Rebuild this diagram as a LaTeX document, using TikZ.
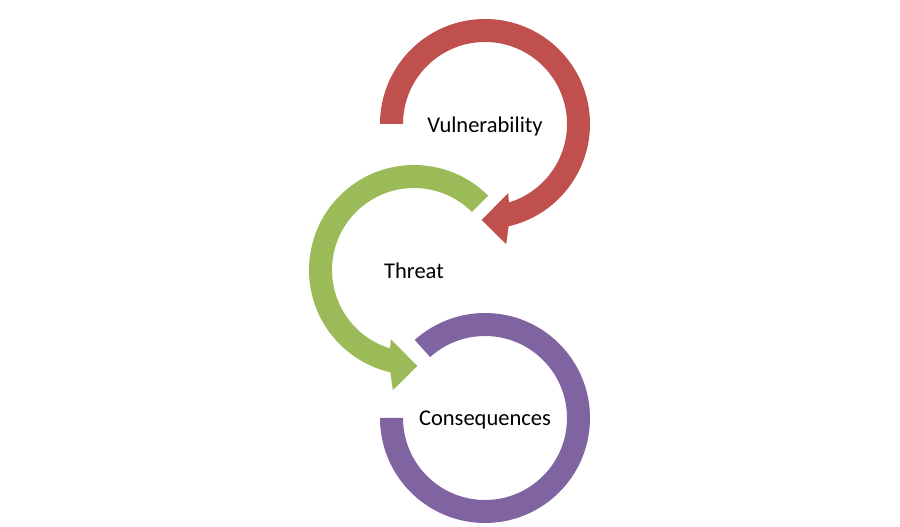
\documentclass[tikz,border=0pt]{standalone}
\usepackage{fontspec}
\setmainfont{Carlito}
\usepackage{xcolor}
\usetikzlibrary{calc}

\definecolor{vulred}{HTML}{C0504D}
\definecolor{thrgreen}{HTML}{9BBB59}
\definecolor{conpurple}{HTML}{8064A2}

\begin{document}
\begin{tikzpicture}[
    x=1pt, y=1pt,
    ring/.style={fill=#1, draw=none},
    label/.style={font=\fontsize{22.5}{27}\selectfont, text=black, anchor=base, inner sep=0pt},
]
    \useasboundingbox (0,0) rectangle (900,527);

    % Ring centres
    \coordinate (vc) at (485,403);
    \coordinate (tc) at (414,257);
    \coordinate (cc) at (485,109);

    % Labels
    \node[label] (vul) at ($(vc)+(0,-9)$) {Vulnerability};
    \node[label] (thr) at ($(tc)+(0,-9)$) {Threat};
    \node[label] (con) at ($(cc)+(0,-8)$) {Consequences};

    % Vulnerability arrow (clockwise)
    \fill[ring=vulred] ($(vc)+(180:105pt)$) arc[start angle=180, end angle=-77, radius=105pt]
        -- ($(vc)+(-80:122pt)$) -- ($(vc)+(-92:96pt)$) -- ($(vc)+(-71.5:73pt)$)
        -- ($(vc)+(-73:82pt)$) arc[start angle=-73, end angle=180, radius=82pt] -- cycle;

    % Threat arrow (counter-clockwise)
    \fill[ring=thrgreen] ($(tc)+(45:105pt)$) arc[start angle=45, end angle=257, radius=105pt]
        -- ($(tc)+(260:122pt)$) -- ($(tc)+(272:96pt)$) -- ($(tc)+(251.5:73pt)$)
        -- ($(tc)+(253:82pt)$) arc[start angle=253, end angle=45, radius=82pt] -- cycle;

    % Consequences ring, no head
    \fill[ring=conpurple] ($(cc)+(180:105pt)$) arc[start angle=180, end angle=492, radius=105pt]
        -- ($(cc)+(132:82pt)$) arc[start angle=132, end angle=-180, radius=82pt] -- cycle;
\end{tikzpicture}
\end{document}
